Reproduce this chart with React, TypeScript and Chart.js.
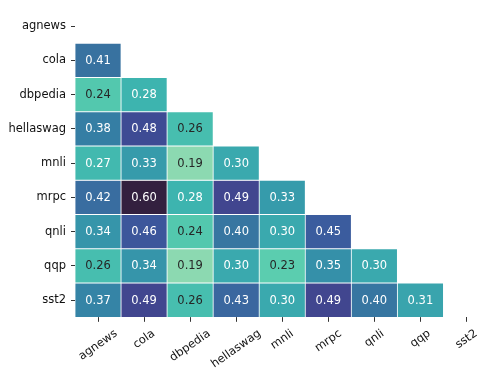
import React, { useEffect, useRef } from "react";
import { Chart, registerables } from "chart.js";

Chart.register(...registerables);

const labels = ["agnews", "cola", "dbpedia", "hellaswag", "mnli", "mrpc", "qnli", "qqp", "sst2"];

// lower-triangle values, row i has i entries (columns 0..i-1)
const rowAgnews: number[] = [];
const rowCola = [0.41];
const rowDbpedia = [0.24, 0.28];
const rowHellaswag = [0.38, 0.48, 0.26];
const rowMnli = [0.27, 0.33, 0.19, 0.3];
const rowMrpc = [0.42, 0.6, 0.28, 0.49, 0.33];
const rowQnli = [0.34, 0.46, 0.24, 0.4, 0.3, 0.45];
const rowQqp = [0.26, 0.34, 0.19, 0.3, 0.23, 0.35, 0.3];
const rowSst2 = [0.37, 0.49, 0.26, 0.43, 0.3, 0.49, 0.4, 0.31];

const rows = [rowAgnews, rowCola, rowDbpedia, rowHellaswag, rowMnli, rowMrpc, rowQnli, rowQqp, rowSst2];

// colour map (value -> colour), mako_r-like as seen in the picture
const colorStops: [number, string][] = [
  [0.19, "#8CD9B1"],
  [0.23, "#5BCDAF"],
  [0.24, "#53C8AE"],
  [0.26, "#47BEAF"],
  [0.28, "#3DB4AF"],
  [0.3, "#3AA9AE"],
  [0.33, "#369BAB"],
  [0.35, "#3590A9"],
  [0.38, "#357EA4"],
  [0.41, "#3872A0"],
  [0.45, "#3B5C9E"],
  [0.48, "#3E4B94"],
  [0.49, "#41468F"],
  [0.6, "#33203F"],
];

function hexToRgb(h: string): number[] {
  const n = parseInt(h.slice(1), 16);
  return [(n >> 16) & 255, (n >> 8) & 255, n & 255];
}

function colorRgb(v: number): number[] {
  if (v <= colorStops[0][0]) return hexToRgb(colorStops[0][1]);
  for (let k = 1; k < colorStops.length; k++) {
    const [v1, c1] = colorStops[k];
    if (v <= v1) {
      const [v0, c0] = colorStops[k - 1];
      const t = (v - v0) / (v1 - v0);
      const a = hexToRgb(c0);
      const b = hexToRgb(c1);
      return a.map((x, i) => Math.round(x + (b[i] - x) * t));
    }
  }
  return hexToRgb(colorStops[colorStops.length - 1][1]);
}

function colorFor(v: number): string {
  const [r, g, b] = colorRgb(v);
  return `rgb(${r},${g},${b})`;
}

function luminance(v: number): number {
  const c = colorRgb(v).map((x) => {
    const s = x / 255;
    return s <= 0.03928 ? s / 12.92 : Math.pow((s + 0.055) / 1.055, 2.4);
  });
  return 0.2126 * c[0] + 0.7152 * c[1] + 0.0722 * c[2];
}

const FONT = "'DejaVu Sans', sans-serif";
const FS = 11.5;

const annotatePlugin = {
  id: "annotate",
  afterDatasetsDraw(chart: any) {
    const ctx = chart.ctx;
    ctx.save();
    ctx.font = `${FS}px ${FONT}`;
    ctx.textAlign = "center";
    ctx.textBaseline = "middle";
    chart.data.datasets.forEach((ds: any, di: number) => {
      const meta = chart.getDatasetMeta(di);
      meta.data.forEach((el: any, j: number) => {
        const v = ds.values[j];
        if (v == null) return;
        const cx = el.x;
        const cy = (el.y + el.base) / 2;
        ctx.fillStyle = luminance(v) > 0.408 ? "#262626" : "#ffffff";
        ctx.fillText(v.toFixed(2), cx, cy + 0.5);
      });
    });
    ctx.restore();
  },
};

const xLabelPlugin = {
  id: "xlabels",
  afterDraw(chart: any) {
    const ctx = chart.ctx;
    const xs = chart.scales.x;
    const theta = (35 * Math.PI) / 180;
    const top = 327;
    ctx.save();
    ctx.font = `${FS}px ${FONT}`;
    ctx.fillStyle = "#111";
    ctx.textAlign = "center";
    ctx.textBaseline = "middle";
    labels.forEach((lab, i) => {
      const x = xs.getPixelForValue(i);
      const w = ctx.measureText(lab).width;
      const h = FS * 1.15;
      const H = w * Math.sin(theta) + h * Math.cos(theta);
      ctx.save();
      ctx.translate(x, top + H / 2);
      ctx.rotate(-theta);
      ctx.fillText(lab, 0, 0);
      ctx.restore();
    });
    ctx.restore();
  },
};

export default function App() {
  const ref = useRef<HTMLCanvasElement | null>(null);
  useEffect(() => {
    if (!ref.current) return;
    const datasets = rows.map((vals, i) => ({
      label: labels[i],
      data: labels.map((_, j) => (j < vals.length ? [i - 0.5, i + 0.5] : null)),
      values: labels.map((_, j) => (j < vals.length ? vals[j] : null)),
      backgroundColor: labels.map((_, j) => (j < vals.length ? colorFor(vals[j]) : "transparent")),
      borderColor: "rgba(255,255,255,0.85)",
      borderWidth: 0.75,
      borderSkipped: false,
      grouped: false,
      barPercentage: 1,
      categoryPercentage: 1,
    }));
    const chart = new Chart(ref.current, {
      type: "bar",
      data: { labels, datasets: datasets as any },
      plugins: [annotatePlugin, xLabelPlugin],
      options: {
        animation: false,
        responsive: false,
        devicePixelRatio: 1,
        layout: { padding: { top: 9, right: 8.5, left: 0, bottom: 0 } },
        plugins: { legend: { display: false }, tooltip: { enabled: false } },
        font: { family: FONT, size: FS },
        scales: {
          x: {
            type: "category",
            offset: true,
            grid: {
              offset: false,
              drawOnChartArea: false,
              drawTicks: true,
              tickLength: 4.5,
              tickColor: "#333",
              tickWidth: 1,
            },
            border: { display: false },
            ticks: { display: false },
            afterFit: (s: any) => {
              s.height = 59.7;
              s.paddingLeft = 0;
              s.paddingRight = 0;
            },
          },
          y: {
            type: "linear",
            reverse: true,
            min: -0.5,
            max: 8.5,
            grid: {
              drawOnChartArea: false,
              drawTicks: true,
              tickLength: 4,
              tickColor: "#333",
              tickWidth: 1,
            },
            border: { display: false },
            afterBuildTicks: (s: any) => {
              s.ticks = labels.map((_, i) => ({ value: i }));
            },
            ticks: {
              padding: 5,
              color: "#111",
              font: { family: FONT, size: FS },
              callback: (v: any) => labels[v as number] ?? "",
            },
            afterFit: (s: any) => {
              s.width = 75;
              s.paddingTop = 0;
              s.paddingBottom = 0;
            },
          },
        },
      } as any,
    });
    return () => chart.destroy();
  }, []);
  return (
    <div style={{ position: "fixed", left: 0, top: 0, width: 498, height: 377, background: "#fff" }}>
      <canvas ref={ref} width={498} height={377} style={{ width: 498, height: 377 }} />
    </div>
  );
}
